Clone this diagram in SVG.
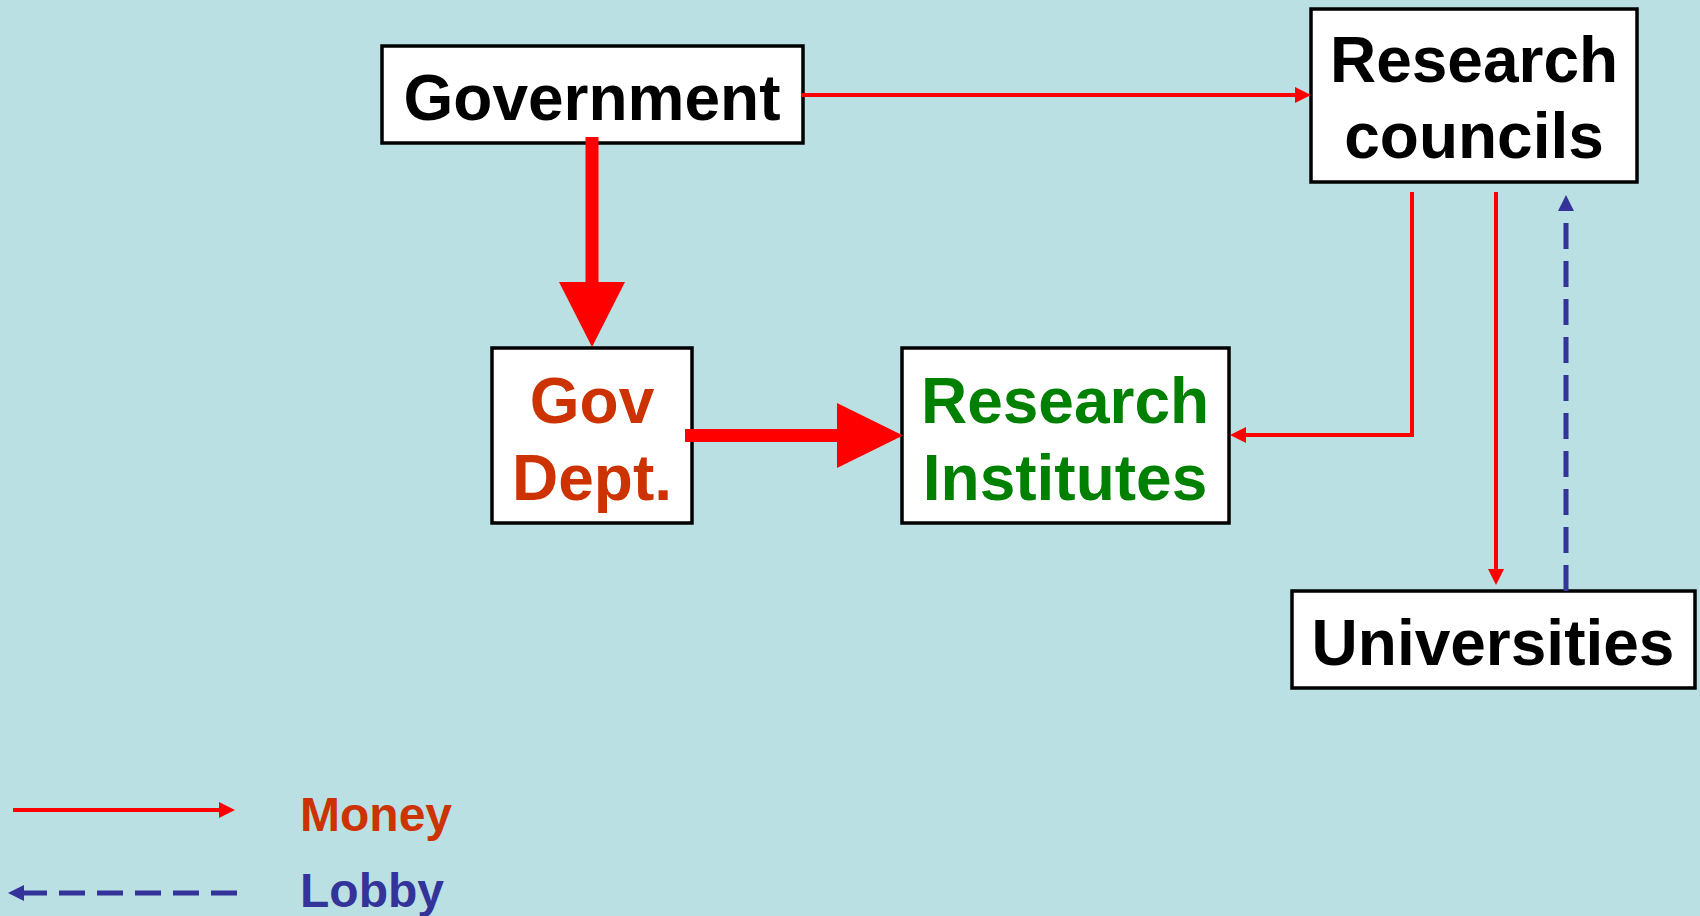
<svg xmlns="http://www.w3.org/2000/svg" width="1700" height="916" viewBox="0 0 1700 916">
<style>
.box{fill:#FFFFFF;stroke:#000000;stroke-width:3.5}
.t{font-family:"Liberation Sans",Arial,sans-serif;font-weight:bold;text-anchor:middle}
.money{fill:none;stroke:#FF0000;stroke-width:4}
.lobby{fill:none;stroke:#333399;stroke-width:5;stroke-dasharray:26 12}
.thick{fill:#FF0000;stroke:none}
</style>
<defs>
<marker id="ar" markerUnits="userSpaceOnUse" markerWidth="16" markerHeight="16" refX="0" refY="8" orient="auto">
<path d="M0,0 L16,8 L0,16 z" fill="#FF0000"/>
</marker>
<marker id="ab" markerUnits="userSpaceOnUse" markerWidth="16" markerHeight="16" refX="0" refY="8" orient="auto">
<path d="M0,0 L16,8 L0,16 z" fill="#333399"/>
</marker>
</defs>
<rect x="0" y="0" width="1700" height="916" fill="#BAE0E3"/>
<g id="government">
<rect class="box" x="382" y="46" width="421" height="97"/>
<text class="t" x="592" y="120" font-size="64" fill="#000000">Government</text>
</g>
<g id="research-councils">
<rect class="box" x="1311" y="9" width="326" height="173"/>
<text class="t" x="1474" y="82" font-size="64" fill="#000000">Research</text>
<text class="t" x="1474" y="158" font-size="64" fill="#000000">councils</text>
</g>
<g id="gov-dept">
<rect class="box" x="492" y="348" width="200" height="175"/>
<text class="t" x="592" y="423" font-size="64" fill="#CC3300">Gov</text>
<text class="t" x="592" y="500" font-size="64" fill="#CC3300">Dept.</text>
</g>
<g id="research-institutes">
<rect class="box" x="902" y="348" width="327" height="175"/>
<text class="t" x="1065" y="423" font-size="64" fill="#008000">Research</text>
<text class="t" x="1065" y="500" font-size="64" fill="#008000">Institutes</text>
</g>
<g id="universities">
<rect class="box" x="1292" y="591" width="403" height="97"/>
<text class="t" x="1493" y="665" font-size="64" fill="#000000">Universities</text>
</g>
<g id="connectors">
<line class="money" x1="801" y1="95" x2="1295" y2="95" marker-end="url(#ar)"/>
<path class="thick" d="M585.5,137 H598.5 V282 H625 L592,347 L559,282 H585.5 Z"/>
<path class="thick" d="M685,429 H837 V403 L903,435.5 L837,468 V442 H685 Z"/>
<polyline class="money" points="1412,192 1412,435 1246,435" marker-end="url(#ar)"/>
<line class="money" x1="1496" y1="192" x2="1496" y2="569" marker-end="url(#ar)"/>
<line class="lobby" x1="1566" y1="591" x2="1566" y2="211" marker-end="url(#ab)"/>
</g>
<g id="legend">
<line class="money" x1="13" y1="810" x2="219" y2="810" stroke-width="5" marker-end="url(#ar)"/>
<text class="t" x="300" y="831" font-size="48" fill="#CC3300" style="text-anchor:start">Money</text>
<line class="lobby" x1="237" y1="893" x2="24" y2="893" marker-end="url(#ab)"/>
<text class="t" x="300" y="907" font-size="48" fill="#333399" style="text-anchor:start">Lobby</text>
</g>
</svg>
